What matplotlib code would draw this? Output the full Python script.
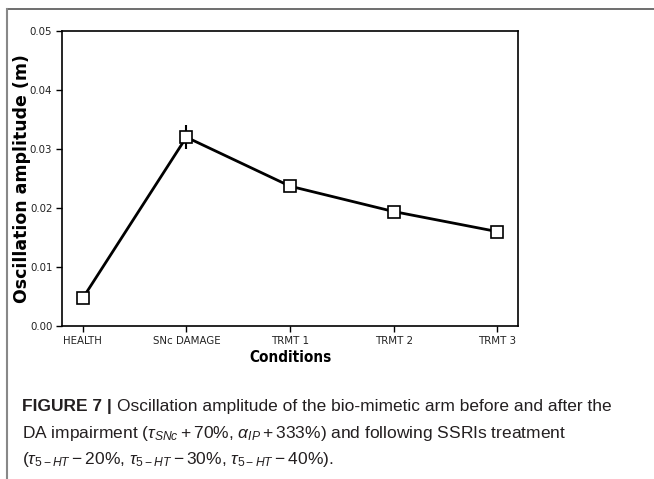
import matplotlib
matplotlib.use("Agg")
import matplotlib.pyplot as plt
from matplotlib.lines import Line2D

conditions = ["HEALTH", "SNc DAMAGE", "TRMT 1", "TRMT 2", "TRMT 3"]
amplitude = [0.0047, 0.0320, 0.0237, 0.0194, 0.0160]
amp_err = [0.0003, 0.0020, 0.0009, 0.0004, 0.0003]
ytick_vals = [0, 0.01, 0.02, 0.03, 0.04, 0.05]
ytick_labels = ["0.00", "0.01", "0.02", "0.03", "0.04", "0.05"]

plt.rcParams['mathtext.fontset'] = 'custom'
plt.rcParams['mathtext.rm'] = 'Liberation Sans'
plt.rcParams['mathtext.it'] = 'Liberation Sans:italic'

fig = plt.figure(figsize=(6.54, 4.79), dpi=100)
ax = fig.add_axes([62 / 654, 1 - 326 / 479, (518 - 62) / 654, (326 - 31) / 479])

x = list(range(len(conditions)))
ax.errorbar(x, amplitude, yerr=amp_err, color='black', lw=2, capsize=0,
            elinewidth=1.5, marker='s', markersize=8, markerfacecolor='white',
            markeredgecolor='black', markeredgewidth=1.2)
ax.set_xlim(-0.2, 4.2)
ax.set_ylim(0, 0.05)
ax.set_yticks(ytick_vals)
ax.set_yticklabels(ytick_labels)
ax.set_xticks(x)
ax.set_xticklabels(conditions)
ax.tick_params(width=1, length=4, pad=3)
for lab in ax.get_xticklabels() + ax.get_yticklabels():
    lab.set_fontsize(8.2)
    lab.set_fontstretch('condensed')
    lab.set_color('#222222')
for s in ax.spines.values():
    s.set_linewidth(1.2)
ax.set_xlabel("Conditions", fontsize=11, fontweight='bold', fontstretch='condensed',
              labelpad=3)
ax.set_ylabel("Oscillation amplitude (m)", fontsize=12.5, fontweight='bold')
ax.yaxis.set_label_coords(-(62 - 31) / (518 - 62), 0.5)

# page frame lines
fig.add_artist(Line2D([7 / 654, 1], [1 - 9 / 479, 1 - 9 / 479], color='#555555', lw=1.2))
fig.add_artist(Line2D([7 / 654, 7 / 654], [0, 1 - 9 / 479], color='#888888', lw=1.5))

# caption
cap_font = dict(family='Liberation Sans', fontsize=12.5, color='#231f20', va='baseline')
y1 = 1 - 411 / 479
bold = fig.text(22 / 654, y1, "FIGURE 7 |", fontweight='bold', **cap_font)
fig.canvas.draw()
bb = bold.get_window_extent()
fig.text((bb.x1 + 5) / 654, y1,
         "Oscillation amplitude of the bio-mimetic arm before and after the", **cap_font)
fig.text(22 / 654, 1 - 438 / 479,
         r"DA impairment ($\tau_{SNc} + 70\%$, $\alpha_{IP} + 333\%$) and following SSRIs treatment",
         **cap_font)
fig.text(22 / 654, 1 - 464 / 479,
         r"($\tau_{5-HT} - 20\%$, $\tau_{5-HT} - 30\%$, $\tau_{5-HT} - 40\%$).", **cap_font)

fig.savefig("out.png", dpi=100)
